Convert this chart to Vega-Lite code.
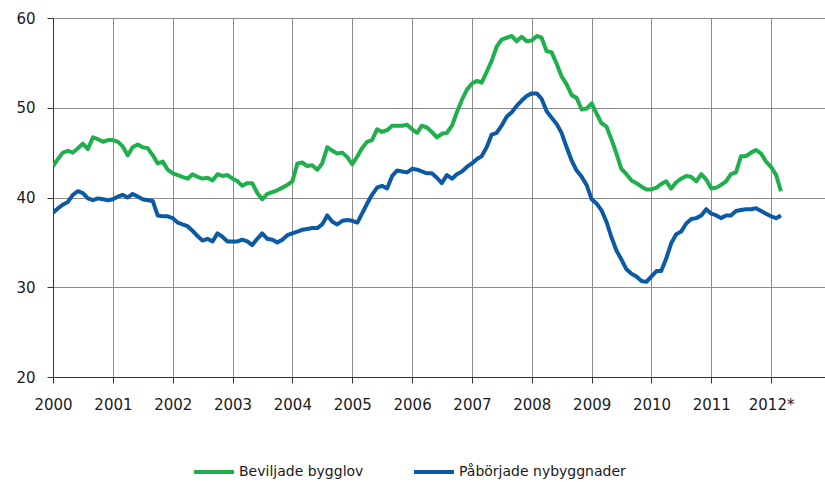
{
  "$schema": "https://vega.github.io/schema/vega-lite/v6.json",
  "autosize": "none",
  "width": 772,
  "height": 359,
  "padding": {"left": 53, "top": 18, "right": 0, "bottom": 105},
  "background": "white",
  "config": {
    "view": {"stroke": null},
    "font": "DejaVu Sans",
    "axis": {"labelFont": "DejaVu Sans", "labelFontSize": 15, "labelColor": "#1a1a1a", "gridColor": "#8c8c8c", "gridWidth": 1, "gridOpacity": 1, "domainColor": "#333", "tickColor": "#333", "tickSize": 6, "title": null}
  },
  "data": {"values": [
{"d":"2000-01-01","Beviljade bygglov":43.5,"Påbörjade nybyggnader":38.3},
{"d":"2000-02-01","Beviljade bygglov":44.3,"Påbörjade nybyggnader":38.8},
{"d":"2000-03-01","Beviljade bygglov":45.0,"Påbörjade nybyggnader":39.2},
{"d":"2000-04-01","Beviljade bygglov":45.2,"Påbörjade nybyggnader":39.5},
{"d":"2000-05-01","Beviljade bygglov":45.0,"Påbörjade nybyggnader":40.3},
{"d":"2000-06-01","Beviljade bygglov":45.5,"Påbörjade nybyggnader":40.7},
{"d":"2000-07-01","Beviljade bygglov":46.0,"Påbörjade nybyggnader":40.5},
{"d":"2000-08-01","Beviljade bygglov":45.4,"Påbörjade nybyggnader":39.9},
{"d":"2000-09-01","Beviljade bygglov":46.7,"Påbörjade nybyggnader":39.7},
{"d":"2000-10-01","Beviljade bygglov":46.5,"Påbörjade nybyggnader":39.9},
{"d":"2000-11-01","Beviljade bygglov":46.2,"Påbörjade nybyggnader":39.8},
{"d":"2000-12-01","Beviljade bygglov":46.4,"Påbörjade nybyggnader":39.7},
{"d":"2001-01-01","Beviljade bygglov":46.4,"Påbörjade nybyggnader":39.8},
{"d":"2001-02-01","Beviljade bygglov":46.2,"Påbörjade nybyggnader":40.1},
{"d":"2001-03-01","Beviljade bygglov":45.7,"Påbörjade nybyggnader":40.3},
{"d":"2001-04-01","Beviljade bygglov":44.7,"Påbörjade nybyggnader":40.0},
{"d":"2001-05-01","Beviljade bygglov":45.6,"Påbörjade nybyggnader":40.4},
{"d":"2001-06-01","Beviljade bygglov":45.9,"Påbörjade nybyggnader":40.1},
{"d":"2001-07-01","Beviljade bygglov":45.6,"Påbörjade nybyggnader":39.8},
{"d":"2001-08-01","Beviljade bygglov":45.5,"Påbörjade nybyggnader":39.7},
{"d":"2001-09-01","Beviljade bygglov":44.7,"Påbörjade nybyggnader":39.6},
{"d":"2001-10-01","Beviljade bygglov":43.8,"Påbörjade nybyggnader":38.0},
{"d":"2001-11-01","Beviljade bygglov":44.0,"Påbörjade nybyggnader":37.9},
{"d":"2001-12-01","Beviljade bygglov":43.1,"Påbörjade nybyggnader":37.9},
{"d":"2002-01-01","Beviljade bygglov":42.7,"Påbörjade nybyggnader":37.7},
{"d":"2002-02-01","Beviljade bygglov":42.5,"Påbörjade nybyggnader":37.2},
{"d":"2002-03-01","Beviljade bygglov":42.3,"Påbörjade nybyggnader":37.0},
{"d":"2002-04-01","Beviljade bygglov":42.1,"Påbörjade nybyggnader":36.8},
{"d":"2002-05-01","Beviljade bygglov":42.6,"Påbörjade nybyggnader":36.3},
{"d":"2002-06-01","Beviljade bygglov":42.3,"Påbörjade nybyggnader":35.7},
{"d":"2002-07-01","Beviljade bygglov":42.1,"Påbörjade nybyggnader":35.2},
{"d":"2002-08-01","Beviljade bygglov":42.2,"Påbörjade nybyggnader":35.4},
{"d":"2002-09-01","Beviljade bygglov":41.9,"Påbörjade nybyggnader":35.1},
{"d":"2002-10-01","Beviljade bygglov":42.6,"Påbörjade nybyggnader":36.0},
{"d":"2002-11-01","Beviljade bygglov":42.4,"Påbörjade nybyggnader":35.6},
{"d":"2002-12-01","Beviljade bygglov":42.5,"Påbörjade nybyggnader":35.1},
{"d":"2003-01-01","Beviljade bygglov":42.1,"Påbörjade nybyggnader":35.1},
{"d":"2003-02-01","Beviljade bygglov":41.8,"Påbörjade nybyggnader":35.1},
{"d":"2003-03-01","Beviljade bygglov":41.3,"Påbörjade nybyggnader":35.3},
{"d":"2003-04-01","Beviljade bygglov":41.6,"Påbörjade nybyggnader":35.1},
{"d":"2003-05-01","Beviljade bygglov":41.6,"Påbörjade nybyggnader":34.7},
{"d":"2003-06-01","Beviljade bygglov":40.5,"Påbörjade nybyggnader":35.4},
{"d":"2003-07-01","Beviljade bygglov":39.8,"Påbörjade nybyggnader":36.0},
{"d":"2003-08-01","Beviljade bygglov":40.4,"Påbörjade nybyggnader":35.4},
{"d":"2003-09-01","Beviljade bygglov":40.6,"Påbörjade nybyggnader":35.3},
{"d":"2003-10-01","Beviljade bygglov":40.8,"Påbörjade nybyggnader":35.0},
{"d":"2003-11-01","Beviljade bygglov":41.1,"Påbörjade nybyggnader":35.3},
{"d":"2003-12-01","Beviljade bygglov":41.4,"Påbörjade nybyggnader":35.8},
{"d":"2004-01-01","Beviljade bygglov":41.8,"Påbörjade nybyggnader":36.0},
{"d":"2004-02-01","Beviljade bygglov":43.8,"Påbörjade nybyggnader":36.2},
{"d":"2004-03-01","Beviljade bygglov":43.9,"Påbörjade nybyggnader":36.4},
{"d":"2004-04-01","Beviljade bygglov":43.5,"Påbörjade nybyggnader":36.5},
{"d":"2004-05-01","Beviljade bygglov":43.6,"Påbörjade nybyggnader":36.6},
{"d":"2004-06-01","Beviljade bygglov":43.1,"Påbörjade nybyggnader":36.6},
{"d":"2004-07-01","Beviljade bygglov":43.8,"Påbörjade nybyggnader":37.0},
{"d":"2004-08-01","Beviljade bygglov":45.6,"Påbörjade nybyggnader":38.0},
{"d":"2004-09-01","Beviljade bygglov":45.2,"Påbörjade nybyggnader":37.3},
{"d":"2004-10-01","Beviljade bygglov":44.9,"Påbörjade nybyggnader":37.0},
{"d":"2004-11-01","Beviljade bygglov":45.0,"Påbörjade nybyggnader":37.4},
{"d":"2004-12-01","Beviljade bygglov":44.5,"Påbörjade nybyggnader":37.5},
{"d":"2005-01-01","Beviljade bygglov":43.7,"Påbörjade nybyggnader":37.4},
{"d":"2005-02-01","Beviljade bygglov":44.6,"Påbörjade nybyggnader":37.2},
{"d":"2005-03-01","Beviljade bygglov":45.5,"Påbörjade nybyggnader":38.2},
{"d":"2005-04-01","Beviljade bygglov":46.2,"Påbörjade nybyggnader":39.3},
{"d":"2005-05-01","Beviljade bygglov":46.4,"Påbörjade nybyggnader":40.3},
{"d":"2005-06-01","Beviljade bygglov":47.6,"Påbörjade nybyggnader":41.1},
{"d":"2005-07-01","Beviljade bygglov":47.3,"Påbörjade nybyggnader":41.3},
{"d":"2005-08-01","Beviljade bygglov":47.5,"Påbörjade nybyggnader":41.0},
{"d":"2005-09-01","Beviljade bygglov":48.0,"Påbörjade nybyggnader":42.4},
{"d":"2005-10-01","Beviljade bygglov":48.0,"Påbörjade nybyggnader":43.0},
{"d":"2005-11-01","Beviljade bygglov":48.0,"Påbörjade nybyggnader":42.9},
{"d":"2005-12-01","Beviljade bygglov":48.1,"Påbörjade nybyggnader":42.8},
{"d":"2006-01-01","Beviljade bygglov":47.6,"Påbörjade nybyggnader":43.2},
{"d":"2006-02-01","Beviljade bygglov":47.2,"Påbörjade nybyggnader":43.1},
{"d":"2006-03-01","Beviljade bygglov":48.0,"Påbörjade nybyggnader":42.9},
{"d":"2006-04-01","Beviljade bygglov":47.8,"Påbörjade nybyggnader":42.7},
{"d":"2006-05-01","Beviljade bygglov":47.3,"Påbörjade nybyggnader":42.7},
{"d":"2006-06-01","Beviljade bygglov":46.7,"Påbörjade nybyggnader":42.2},
{"d":"2006-07-01","Beviljade bygglov":47.1,"Påbörjade nybyggnader":41.6},
{"d":"2006-08-01","Beviljade bygglov":47.2,"Påbörjade nybyggnader":42.5},
{"d":"2006-09-01","Beviljade bygglov":48.0,"Påbörjade nybyggnader":42.1},
{"d":"2006-10-01","Beviljade bygglov":49.5,"Påbörjade nybyggnader":42.6},
{"d":"2006-11-01","Beviljade bygglov":50.9,"Påbörjade nybyggnader":42.9},
{"d":"2006-12-01","Beviljade bygglov":52.0,"Påbörjade nybyggnader":43.4},
{"d":"2007-01-01","Beviljade bygglov":52.7,"Påbörjade nybyggnader":43.8},
{"d":"2007-02-01","Beviljade bygglov":53.0,"Påbörjade nybyggnader":44.3},
{"d":"2007-03-01","Beviljade bygglov":52.8,"Påbörjade nybyggnader":44.6},
{"d":"2007-04-01","Beviljade bygglov":54.0,"Påbörjade nybyggnader":45.6},
{"d":"2007-05-01","Beviljade bygglov":55.2,"Påbörjade nybyggnader":47.0},
{"d":"2007-06-01","Beviljade bygglov":56.8,"Påbörjade nybyggnader":47.2},
{"d":"2007-07-01","Beviljade bygglov":57.6,"Påbörjade nybyggnader":48.0},
{"d":"2007-08-01","Beviljade bygglov":57.8,"Påbörjade nybyggnader":49.0},
{"d":"2007-09-01","Beviljade bygglov":58.0,"Påbörjade nybyggnader":49.5},
{"d":"2007-10-01","Beviljade bygglov":57.4,"Påbörjade nybyggnader":50.2},
{"d":"2007-11-01","Beviljade bygglov":57.9,"Påbörjade nybyggnader":50.8},
{"d":"2007-12-01","Beviljade bygglov":57.4,"Påbörjade nybyggnader":51.3},
{"d":"2008-01-01","Beviljade bygglov":57.5,"Påbörjade nybyggnader":51.6},
{"d":"2008-02-01","Beviljade bygglov":58.0,"Påbörjade nybyggnader":51.6},
{"d":"2008-03-01","Beviljade bygglov":57.8,"Påbörjade nybyggnader":51.0},
{"d":"2008-04-01","Beviljade bygglov":56.3,"Påbörjade nybyggnader":49.6},
{"d":"2008-05-01","Beviljade bygglov":56.2,"Påbörjade nybyggnader":48.9},
{"d":"2008-06-01","Beviljade bygglov":54.9,"Påbörjade nybyggnader":48.2},
{"d":"2008-07-01","Beviljade bygglov":53.5,"Påbörjade nybyggnader":47.2},
{"d":"2008-08-01","Beviljade bygglov":52.6,"Påbörjade nybyggnader":45.6},
{"d":"2008-09-01","Beviljade bygglov":51.4,"Påbörjade nybyggnader":44.1},
{"d":"2008-10-01","Beviljade bygglov":51.1,"Påbörjade nybyggnader":43.0},
{"d":"2008-11-01","Beviljade bygglov":49.8,"Påbörjade nybyggnader":42.3},
{"d":"2008-12-01","Beviljade bygglov":49.9,"Påbörjade nybyggnader":41.4},
{"d":"2009-01-01","Beviljade bygglov":50.5,"Påbörjade nybyggnader":39.8},
{"d":"2009-02-01","Beviljade bygglov":49.3,"Påbörjade nybyggnader":39.3},
{"d":"2009-03-01","Beviljade bygglov":48.3,"Påbörjade nybyggnader":38.6},
{"d":"2009-04-01","Beviljade bygglov":47.9,"Påbörjade nybyggnader":37.3},
{"d":"2009-05-01","Beviljade bygglov":46.5,"Påbörjade nybyggnader":35.6},
{"d":"2009-06-01","Beviljade bygglov":44.9,"Påbörjade nybyggnader":34.1},
{"d":"2009-07-01","Beviljade bygglov":43.2,"Påbörjade nybyggnader":33.1},
{"d":"2009-08-01","Beviljade bygglov":42.6,"Påbörjade nybyggnader":32.0},
{"d":"2009-09-01","Beviljade bygglov":41.9,"Påbörjade nybyggnader":31.5},
{"d":"2009-10-01","Beviljade bygglov":41.6,"Påbörjade nybyggnader":31.2},
{"d":"2009-11-01","Beviljade bygglov":41.2,"Påbörjade nybyggnader":30.7},
{"d":"2009-12-01","Beviljade bygglov":40.9,"Påbörjade nybyggnader":30.6},
{"d":"2010-01-01","Beviljade bygglov":40.9,"Påbörjade nybyggnader":31.2},
{"d":"2010-02-01","Beviljade bygglov":41.1,"Påbörjade nybyggnader":31.8},
{"d":"2010-03-01","Beviljade bygglov":41.5,"Påbörjade nybyggnader":31.8},
{"d":"2010-04-01","Beviljade bygglov":41.8,"Påbörjade nybyggnader":33.2},
{"d":"2010-05-01","Beviljade bygglov":41.0,"Påbörjade nybyggnader":34.9},
{"d":"2010-06-01","Beviljade bygglov":41.7,"Påbörjade nybyggnader":35.9},
{"d":"2010-07-01","Beviljade bygglov":42.1,"Påbörjade nybyggnader":36.2},
{"d":"2010-08-01","Beviljade bygglov":42.4,"Påbörjade nybyggnader":37.1},
{"d":"2010-09-01","Beviljade bygglov":42.3,"Påbörjade nybyggnader":37.6},
{"d":"2010-10-01","Beviljade bygglov":41.8,"Påbörjade nybyggnader":37.7},
{"d":"2010-11-01","Beviljade bygglov":42.6,"Påbörjade nybyggnader":38.0},
{"d":"2010-12-01","Beviljade bygglov":42.0,"Påbörjade nybyggnader":38.7},
{"d":"2011-01-01","Beviljade bygglov":41.0,"Påbörjade nybyggnader":38.2},
{"d":"2011-02-01","Beviljade bygglov":41.1,"Påbörjade nybyggnader":38.0},
{"d":"2011-03-01","Beviljade bygglov":41.4,"Påbörjade nybyggnader":37.7},
{"d":"2011-04-01","Beviljade bygglov":41.8,"Påbörjade nybyggnader":38.0},
{"d":"2011-05-01","Beviljade bygglov":42.6,"Påbörjade nybyggnader":38.0},
{"d":"2011-06-01","Beviljade bygglov":42.8,"Påbörjade nybyggnader":38.5},
{"d":"2011-07-01","Beviljade bygglov":44.6,"Påbörjade nybyggnader":38.6},
{"d":"2011-08-01","Beviljade bygglov":44.6,"Påbörjade nybyggnader":38.7},
{"d":"2011-09-01","Beviljade bygglov":45.0,"Påbörjade nybyggnader":38.7},
{"d":"2011-10-01","Beviljade bygglov":45.3,"Påbörjade nybyggnader":38.8},
{"d":"2011-11-01","Beviljade bygglov":44.9,"Påbörjade nybyggnader":38.5},
{"d":"2011-12-01","Beviljade bygglov":44.0,"Påbörjade nybyggnader":38.2},
{"d":"2012-01-01","Beviljade bygglov":43.4,"Påbörjade nybyggnader":37.9},
{"d":"2012-02-01","Beviljade bygglov":42.5,"Påbörjade nybyggnader":37.7},
{"d":"2012-03-01","Beviljade bygglov":40.7,"Påbörjade nybyggnader":38.0}
  ]},
  "transform": [
    {"fold": ["Beviljade bygglov", "Påbörjade nybyggnader"], "as": ["serie", "v"]}
  ],
  "mark": {"type": "line", "strokeWidth": 4, "strokeJoin": "round", "clip": true},
  "encoding": {
    "x": {
      "field": "d", "type": "temporal",
      "scale": {"type": "utc", "domain": [{"year": 2000, "month": 1, "date": 1, "utc": true}, {"year": 2012, "month": 11, "date": 25, "utc": true}]},
      "axis": {
        "values": [
          {"year": 2000, "month": 1, "date": 1, "utc": true}, {"year": 2001, "month": 1, "date": 1, "utc": true},
          {"year": 2002, "month": 1, "date": 1, "utc": true}, {"year": 2003, "month": 1, "date": 1, "utc": true},
          {"year": 2004, "month": 1, "date": 1, "utc": true}, {"year": 2005, "month": 1, "date": 1, "utc": true},
          {"year": 2006, "month": 1, "date": 1, "utc": true}, {"year": 2007, "month": 1, "date": 1, "utc": true},
          {"year": 2008, "month": 1, "date": 1, "utc": true}, {"year": 2009, "month": 1, "date": 1, "utc": true},
          {"year": 2010, "month": 1, "date": 1, "utc": true}, {"year": 2011, "month": 1, "date": 1, "utc": true},
          {"year": 2012, "month": 1, "date": 1, "utc": true}
        ],
        "labelExpr": "utcFormat(datum.value, '%Y') == '2012' ? '2012*' : utcFormat(datum.value, '%Y')",
        "labelPadding": 14,
        "labelFlush": false,
        "labelOverlap": false,
        "grid": true
      }
    },
    "y": {
      "field": "v", "type": "quantitative",
      "scale": {"domain": [20, 60], "nice": false, "zero": false},
      "axis": {"values": [20, 30, 40, 50, 60], "labelPadding": 12, "grid": true}
    },
    "color": {
      "field": "serie", "type": "nominal",
      "scale": {"domain": ["Beviljade bygglov", "Påbörjade nybyggnader"], "range": ["#1faf4c", "#0b5aa3"]},
      "legend": {
        "title": null, "orient": "none", "direction": "horizontal",
        "legendX": 139, "legendY": 432,
        "symbolType": "stroke", "symbolSize": 1600, "symbolStrokeWidth": 4,
        "labelFont": "DejaVu Sans", "labelFontSize": 14, "labelColor": "#1a1a1a",
        "labelLimit": 400,
        "labelOffset": 3, "columnPadding": 42
      }
    }
  }
}
